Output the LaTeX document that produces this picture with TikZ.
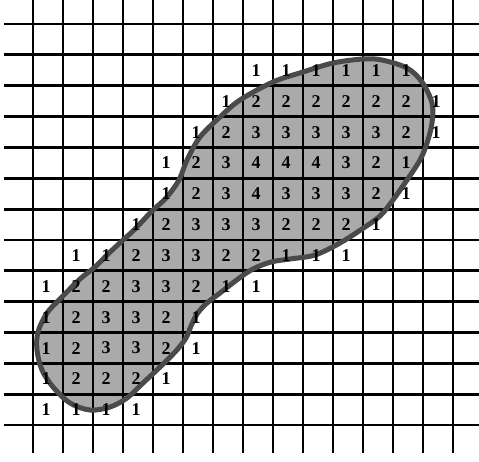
\documentclass[tikz,border=0pt]{standalone}
\usepackage{fontspec}
\setmainfont{Liberation Serif}
\definecolor{blobgray}{HTML}{AAAAAA}
\definecolor{blobedge}{HTML}{4A4A4A}
\tikzset{
  gridline/.style={line width=2.8pt, black},
  blobline/.style={line width=5pt, blobedge},
  blobfill/.style={fill=blobgray},
  num/.style={font=\fontsize{18}{18}\selectfont\bfseries, inner sep=0pt, text=black}
}
\begin{document}
\begin{tikzpicture}[x=1pt,y=-1pt]
\useasboundingbox (0,0) rectangle (479,461);
\fill[white] (0,0) rectangle (479,461);
% blob fill
\fill[blobfill] plot[smooth cycle, tension=0.55] coordinates {
(187,160) (200,137) (220,117) (240,100) (273,82) (303,72) (333,63) (363,59) (382,60)
(407,68) (422,82) (432,103) (432,123) (427,143) (420,160) (407,180) (393,200)
(380,216) (362,229) (340,243) (315,255) (290,259) (271,262) (253,269) (238,279)
(220,293) (207,303) (197,314) (191,326) (186,338) (176,351) (160,367) (143,383)
(127,398) (110,407) (90,410) (70,403) (53,387) (42,370) (37,350) (38,332) (47,313)
(60,299) (80,279) (95,267) (108,254) (122,241) (135,229) (152,211) (166,198) (179,180)};
% grid
\foreach \k in {0,...,14} {
  \draw[gridline] ({33+30*\k},0) -- ({33+30*\k},453);
}
\foreach \j in {0,...,13} {
  \draw[gridline] (4,{24+30.85*\j}) -- (479,{24+30.85*\j});
}
% blob outline
\draw[blobline] plot[smooth cycle, tension=0.55] coordinates {
(187,160) (200,137) (220,117) (240,100) (273,82) (303,72) (333,63) (363,59) (382,60)
(407,68) (422,82) (432,103) (432,123) (427,143) (420,160) (407,180) (393,200)
(380,216) (362,229) (340,243) (315,255) (290,259) (271,262) (253,269) (238,279)
(220,293) (207,303) (197,314) (191,326) (186,338) (176,351) (160,367) (143,383)
(127,398) (110,407) (90,410) (70,403) (53,387) (42,370) (37,350) (38,332) (47,313)
(60,299) (80,279) (95,267) (108,254) (122,241) (135,229) (152,211) (166,198) (179,180)};
% numbers
\foreach \j/\s/\vals in {
  1/7/{1,1,1,1,1,1},
  2/6/{1,2,2,2,2,2,2,1},
  3/5/{1,2,3,3,3,3,3,2,1},
  4/4/{1,2,3,4,4,4,3,2,1},
  5/4/{1,2,3,4,3,3,3,2,1},
  6/3/{1,2,3,3,3,2,2,2,1},
  7/1/{1,1,2,3,3,2,2,1,1,1},
  8/0/{1,2,2,3,3,2,1,1},
  9/0/{1,2,3,3,2,1},
  10/0/{1,2,3,3,2,1},
  11/0/{1,2,2,2,1},
  12/0/{1,1,1,1}} {
  \foreach \v [count=\c from 0] in \vals {
    \node[num] (n-\j-\c) at ({46+30*(\s+\c)},{39.6+30.85*\j}) {\v};
  }
}
\end{tikzpicture}
\end{document}
